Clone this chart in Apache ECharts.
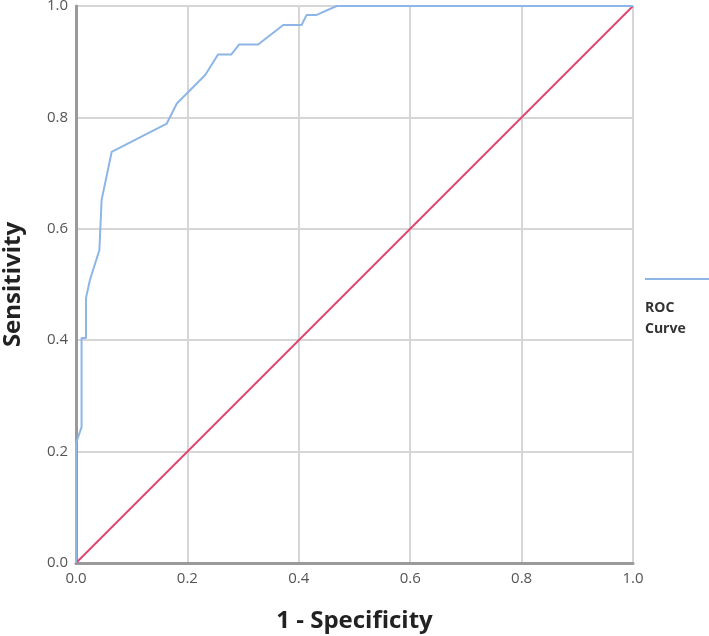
<!DOCTYPE html>
<html>
<head>
<meta charset="utf-8">
<title>ROC Curve</title>
<script src="https://cdn.jsdelivr.net/npm/echarts@6/dist/echarts.min.js"></script>
<style>
    html, body{
        margin: 0;
        padding: 0;
        background: #fff;
    }
    #chart{
        width: 709px;
        height: 636px;
    }
</style>
</head>
<body>
<div id="chart"></div>
<script>
    // ROC 曲线数据 (1 - 特异度, 灵敏度)
    var rocX = [0, 0, 0.010, 0.010, 0.018, 0.018, 0.025, 0.042, 0.046, 0.064, 0.163, 0.181, 0.232, 0.255, 0.279, 0.293, 0.327, 0.372, 0.405, 0.414, 0.432, 0.468, 1.0];
    var rocY = [0, 0.215, 0.244, 0.404, 0.404, 0.476, 0.508, 0.562, 0.652, 0.738, 0.789, 0.825, 0.876, 0.913, 0.913, 0.931, 0.931, 0.966, 0.966, 0.984, 0.984, 1.0, 1.0];
    // 参考线
    var refX = [0, 1];
    var refY = [0, 1];
    var tickLabels = ['0.0', '0.2', '0.4', '0.6', '0.8', '1.0'];

    var fontFam = '"Open Sans", "Liberation Sans", sans-serif';

    function pairs(xs, ys){
        var out = [];
        for (var i = 0; i < xs.length; i++) {
            out.push([xs[i], ys[i]]);
        }
        return out;
    }

    function tickText(v){
        return tickLabels[Math.round(v * 5)];
    }

    var myChart = echarts.init(document.getElementById('chart'));
    var option = {
        animation: false,
        grid: {
            left: 76,
            top: 6,
            width: 557,
            height: 557,
            containLabel: false,
            outerBoundsMode: 'none'
        },
        xAxis: {
            type: 'value',
            min: 0,
            max: 1,
            interval: 0.2,
            name: '1 - Specificity',
            nameLocation: 'middle',
            nameGap: 46,
            nameTextStyle: {
                fontFamily: fontFam,
                fontWeight: 'bold',
                fontSize: 24,
                color: '#222'
            },
            axisLine: { lineStyle: { color: '#9a9a9a', width: 3 } },
            axisTick: { show: false },
            axisLabel: {
                formatter: tickText,
                fontFamily: fontFam,
                fontSize: 15,
                color: '#555',
                margin: 8
            },
            splitLine: { lineStyle: { color: '#d6d6d6', width: 2 } }
        },
        yAxis: {
            type: 'value',
            min: 0,
            max: 1,
            interval: 0.2,
            name: 'Sensitivity',
            nameLocation: 'middle',
            nameGap: 51,
            nameTextStyle: {
                fontFamily: fontFam,
                fontWeight: 'bold',
                fontSize: 24,
                color: '#222'
            },
            axisLine: { show: true, lineStyle: { color: '#9a9a9a', width: 3 } },
            axisTick: { show: false },
            axisLabel: {
                formatter: tickText,
                fontFamily: fontFam,
                fontSize: 15,
                color: '#555',
                margin: 8
            },
            splitLine: { lineStyle: { color: '#d6d6d6', width: 2 } }
        },
        series: [{
            name: 'Reference',
            type: 'line',
            data: pairs(refX, refY),
            showSymbol: false,
            lineStyle: { color: '#e0476e', width: 2 },
            z: 3
        }, {
            name: 'ROC Curve',
            type: 'line',
            data: pairs(rocX, rocY),
            showSymbol: false,
            lineStyle: { color: '#8db6e6', width: 2 },
            z: 4
        }],
        // 图例
        graphic: [{
            type: 'line',
            shape: { x1: 645, y1: 279, x2: 709, y2: 279 },
            style: { stroke: '#8db6e6', lineWidth: 2 }
        }, {
            type: 'text',
            left: 645,
            top: 298,
            style: {
                text: 'ROC\nCurve',
                fontFamily: '"Open Sans", sans-serif',
                fontWeight: 'bold',
                fontSize: 14,
                lineHeight: 21,
                fill: '#333'
            }
        }]
    };
    myChart.setOption(option);
</script>
</body>
</html>
